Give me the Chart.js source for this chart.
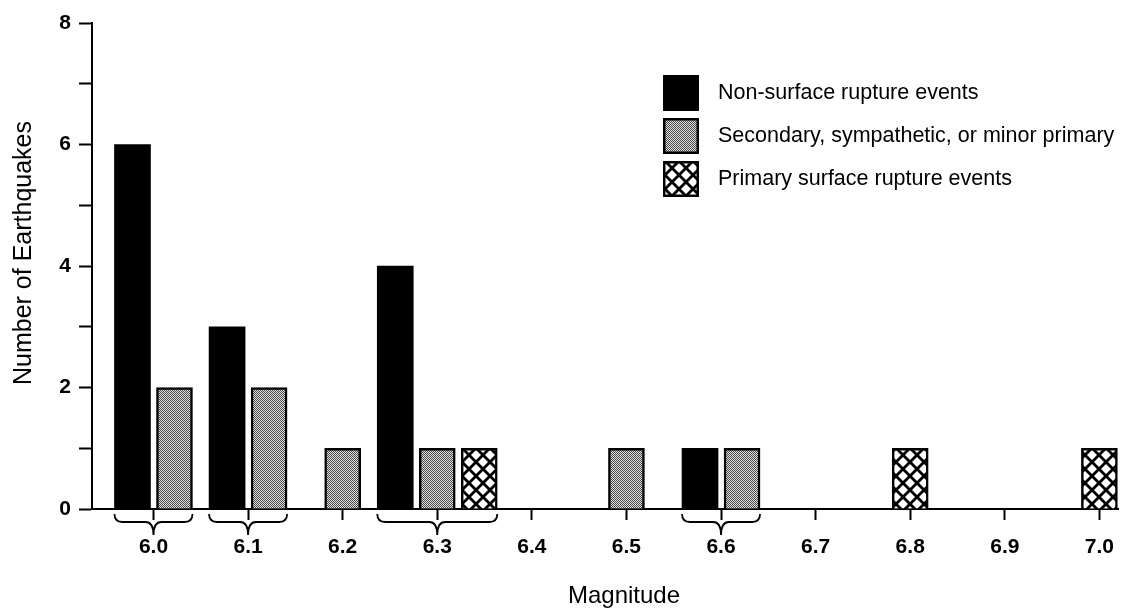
<!DOCTYPE html>
<html>
<head>
<meta charset="utf-8">
<script src="https://cdn.jsdelivr.net/npm/chart.js@4.4.1/dist/chart.umd.min.js"></script>
<style>
  body { margin: 0; background: #fff; }
  #wrap { width: 1129px; height: 610px; position: relative; }
</style>
</head>
<body>
<div id="wrap"><canvas id="quakes"></canvas></div>
<script>
const magnitudes = [6.0, 6.1, 6.2, 6.3, 6.4, 6.5, 6.6, 6.7, 6.8, 6.9, 7.0];
const nonSurface = [6, 3, null, 4, null, null, 1, null, null, null, null];
const secondary = [2, 2, 1, 1, null, 1, 1, null, null, null, null];
const primary = [null, null, null, 1, null, null, null, null, 1, null, 1];
const seriesNames = [
  "Non-surface rupture events",
  "Secondary, sympathetic, or minor primary",
  "Primary surface rupture events",
];
const FONT = "'Liberation Sans', Arial, sans-serif";

// fill patterns like the printed figure
function stipple() {
  const c = document.createElement("canvas");
  c.width = 2; c.height = 2;
  const g = c.getContext("2d");
  g.fillStyle = "#e0e0e0"; g.fillRect(0, 0, 2, 2);
  g.fillStyle = "#4a4a4a"; g.fillRect(0, 0, 1, 1); g.fillRect(1, 1, 1, 1);
  return g.createPattern(c, "repeat");
}
function crossHatch() {
  const n = 14;
  const c = document.createElement("canvas");
  c.width = n; c.height = n;
  const g = c.getContext("2d");
  g.fillStyle = "#fff"; g.fillRect(0, 0, n, n);
  g.strokeStyle = "#000"; g.lineWidth = 2.8;
  for (const k of [-n, 0, n]) {
    g.beginPath(); g.moveTo(k, 0); g.lineTo(k + n, n); g.stroke();
    g.beginPath(); g.moveTo(k + n, 0); g.lineTo(k, n); g.stroke();
  }
  return g.createPattern(c, "repeat");
}

const fills = ["#000", stipple(), crossHatch()];

// curly braces under groups with more than one bar
const bracePlugin = {
  id: "braces",
  afterDraw(chart) {
    const ctx = chart.ctx;
    const y0 = chart.chartArea.bottom + 5;
    ctx.save();
    ctx.strokeStyle = "#000";
    ctx.lineWidth = 1.8;
    magnitudes.forEach((m, i) => {
      const bars = [];
      chart.data.datasets.forEach((ds, d) => {
        if (ds.data[i] != null) bars.push(chart.getDatasetMeta(d).data[i]);
      });
      if (bars.length < 2) return;
      const x0 = Math.min(...bars.map(b => b.x - b.width / 2));
      const x1 = Math.max(...bars.map(b => b.x + b.width / 2));
      const cx = chart.scales.x.getPixelForValue(m);
      const r = 8, h = 21;
      ctx.beginPath();
      ctx.moveTo(x0, y0);
      ctx.quadraticCurveTo(x0, y0 + r, x0 + r, y0 + r);
      ctx.lineTo(cx - r, y0 + r);
      ctx.quadraticCurveTo(cx, y0 + r, cx, y0 + h);
      ctx.quadraticCurveTo(cx, y0 + r, cx + r, y0 + r);
      ctx.lineTo(x1 - r, y0 + r);
      ctx.quadraticCurveTo(x1, y0 + r, x1, y0);
      ctx.stroke();
    });
    ctx.restore();
  },
};

// boxed legend list and axis titles
const labelPlugin = {
  id: "labels",
  afterDraw(chart) {
    const ctx = chart.ctx;
    ctx.save();
    ctx.font = "21.5px " + FONT;
    ctx.textBaseline = "middle";
    chart.data.datasets.forEach((ds, i) => {
      const y = 93 + i * 43;
      ctx.fillStyle = ds.backgroundColor;
      ctx.fillRect(663, y - 18, 36, 36);
      if (i > 0) {
        ctx.strokeStyle = "#000";
        ctx.lineWidth = 2.5;
        ctx.strokeRect(664.25, y - 16.75, 33.5, 33.5);
      }
      ctx.fillStyle = "#000";
      ctx.fillText(ds.label, 718, y);
    });

    ctx.textAlign = "center";
    ctx.font = "24px " + FONT;
    ctx.fillText("Magnitude", 624, 596);

    ctx.translate(24, 253);
    ctx.rotate(-Math.PI / 2);
    ctx.font = "25px " + FONT;
    ctx.fillText("Number of Earthquakes", 0, 0);
    ctx.restore();
  },
};

Chart.defaults.color = "#000";
Chart.defaults.font.family = FONT;

new Chart(document.getElementById("quakes"), {
  type: "bar",
  data: {
    labels: magnitudes,
    datasets: [
      { label: seriesNames[0], data: nonSurface, backgroundColor: fills[0], borderWidth: 0 },
      { label: seriesNames[1], data: secondary, backgroundColor: fills[1], borderColor: "#000", borderWidth: 2.5 },
      { label: seriesNames[2], data: primary, backgroundColor: fills[2], borderColor: "#000", borderWidth: 2.5 },
    ],
  },
  options: {
    responsive: true,
    maintainAspectRatio: false,
    animation: false,
    layout: { padding: { top: 23, right: 0, left: 0, bottom: 0 } },
    datasets: {
      bar: { barThickness: 42, maxBarThickness: 36, skipNull: true, borderSkipped: "bottom" },
    },
    plugins: {
      legend: { display: false },
      tooltip: { enabled: false },
    },
    scales: {
      x: {
        type: "linear",
        min: 5.935,
        max: 7.02,
        offset: false,
        afterFit(s) { s.height = 101; },
        afterBuildTicks(s) { s.ticks = magnitudes.map(v => ({ value: v })); },
        border: { display: true, color: "#000", width: 2 },
        grid: { display: true, offset: false, drawOnChartArea: false, tickLength: 11, tickColor: "#000", tickWidth: 2 },
        ticks: {
          padding: 15,
          font: { size: 21, weight: "bold" },
          maxRotation: 0,
          autoSkip: false,
          callback: v => v.toFixed(1),
        },
      },
      y: {
        min: 0,
        max: 8,
        afterFit(s) { s.width = 92; },
        border: { display: true, color: "#000", width: 2 },
        grid: { display: true, drawOnChartArea: false, tickLength: 13, tickColor: "#000", tickWidth: 2 },
        ticks: {
          stepSize: 1,
          padding: 8,
          font: { size: 21, weight: "bold" },
          callback: v => (v % 2 === 0 ? v : ""),
        },
      },
    },
  },
  plugins: [bracePlugin, labelPlugin],
});
</script>
</body>
</html>
